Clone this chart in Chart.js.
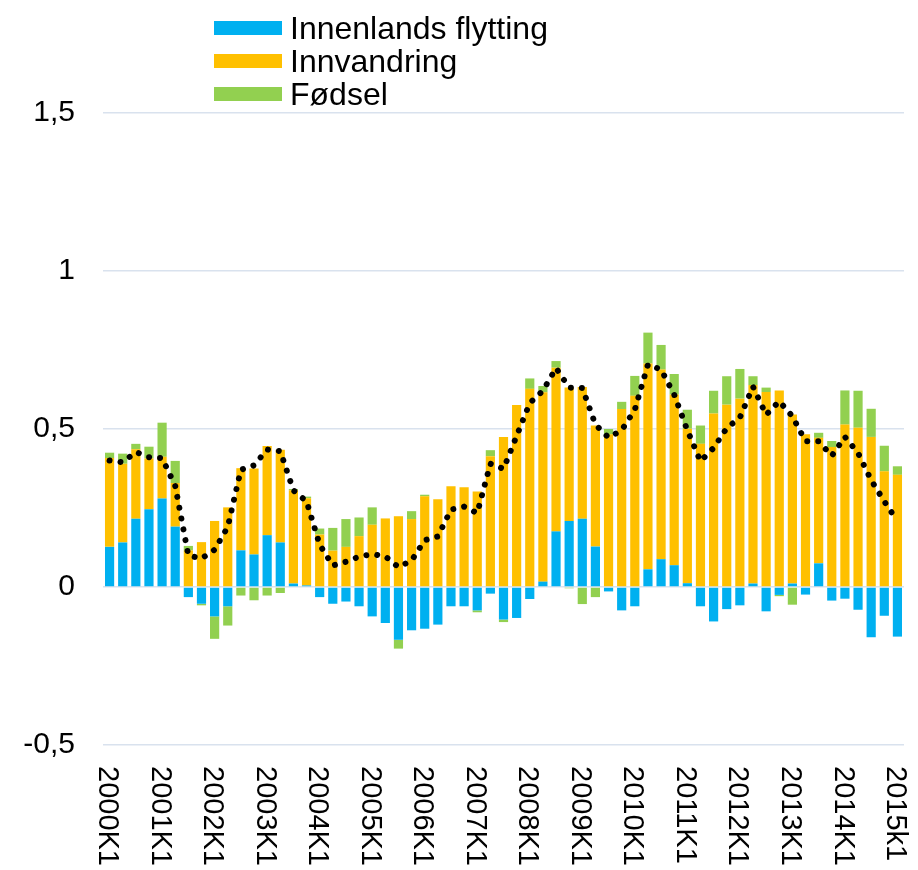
<!DOCTYPE html>
<html>
<head>
<meta charset="utf-8">
<script src="https://cdn.jsdelivr.net/npm/chart.js@4.4.1/dist/chart.umd.min.js"></script>
<style>
  html, body { margin: 0; padding: 0; background: #fff; }
  #wrap { width: 918px; height: 870px; position: relative; }
</style>
</head>
<body>
<div id="wrap"><canvas id="c" width="918" height="870"></canvas></div>
<script>
const categories = [
  "2000K1","2000K2","2000K3","2000K4","2001K1","2001K2","2001K3","2001K4",
  "2002K1","2002K2","2002K3","2002K4","2003K1","2003K2","2003K3","2003K4",
  "2004K1","2004K2","2004K3","2004K4","2005K1","2005K2","2005K3","2005K4",
  "2006K1","2006K2","2006K3","2006K4","2007K1","2007K2","2007K3","2007K4",
  "2008K1","2008K2","2008K3","2008K4","2009K1","2009K2","2009K3","2009K4",
  "2010K1","2010K2","2010K3","2010K4","2011K1","2011K2","2011K3","2011K4",
  "2012K1","2012K2","2012K3","2012K4","2013K1","2013K2","2013K3","2013K4",
  "2014K1","2014K2","2014K3","2014K4","2015k1"
];
const tickLabels = ["2000K1","2001K1","2002K1","2003K1","2004K1","2005K1","2006K1","2007K1",
  "2008K1","2009K1","2010K1","2011K1","2012K1","2013K1","2014K1","2015k1"];

const innenlands = [
  0.127,0.141,0.216,0.246,0.280,0.191,-0.032,-0.053,
  -0.093,-0.061,0.116,0.103,0.164,0.141,0.011,0.005,
  -0.032,-0.053,-0.046,-0.061,-0.093,-0.114,-0.167,-0.137,
  -0.132,-0.119,-0.061,-0.061,-0.074,-0.021,-0.103,-0.098,
  -0.038,0.017,0.176,0.209,0.216,0.128,-0.014,-0.074,
  -0.061,0.056,0.088,0.069,0.012,-0.061,-0.109,-0.070,
  -0.058,0.011,-0.077,-0.025,0.011,-0.024,0.075,-0.043,
  -0.037,-0.072,-0.159,-0.091,-0.157
];
const innvandring = [
  0.281,0.249,0.220,0.161,0.132,0.138,0.116,0.142,
  0.209,0.252,0.260,0.272,0.282,0.293,0.295,0.276,
  0.166,0.115,0.127,0.161,0.197,0.217,0.224,0.215,
  0.287,0.278,0.319,0.316,0.302,0.414,0.475,0.576,
  0.627,0.599,0.518,0.422,0.417,0.383,0.483,0.563,
  0.605,0.651,0.600,0.540,0.489,0.453,0.549,0.577,
  0.596,0.628,0.617,0.622,0.535,0.483,0.397,0.443,
  0.514,0.504,0.475,0.366,0.355
];
const fodsel = [
  0.017,0.032,0.017,0.037,0.108,0.070,0.014,-0.005,
  -0.071,-0.061,-0.027,-0.042,-0.027,-0.019,0.004,0.005,
  0.019,0.072,0.088,0.059,0.055,0.000,-0.028,0.025,
  0.005,0.000,0.000,0.000,-0.006,0.019,-0.008,0.000,
  0.033,0.020,0.021,-0.004,-0.054,-0.032,0.017,0.023,
  0.063,0.098,0.078,0.065,0.060,0.058,0.072,0.090,
  0.094,0.028,0.014,-0.004,-0.056,0.000,0.016,0.019,
  0.108,0.117,0.089,0.081,0.027
];
const totalLine = [
  0.400,0.395,0.427,0.411,0.408,0.320,0.100,0.090,
  0.118,0.190,0.371,0.385,0.435,0.430,0.306,0.271,
  0.134,0.068,0.080,0.096,0.104,0.097,0.063,0.084,
  0.148,0.160,0.245,0.254,0.234,0.390,0.374,0.478,
  0.582,0.621,0.693,0.631,0.630,0.514,0.473,0.496,
  0.561,0.704,0.688,0.609,0.496,0.398,0.440,0.503,
  0.536,0.634,0.545,0.588,0.540,0.461,0.461,0.415,
  0.475,0.424,0.338,0.271,0.208
];
const seriesNames = ["Innenlands flytting", "Innvandring", "Fødsel"];
const seriesColors = ["#00B0F0", "#FFC000", "#92D050"];

const FONT = "'Liberation Sans', Arial, sans-serif";

const customText = {
  id: 'customText',
  afterDraw(chart) {
    const ctx = chart.ctx;
    const xs = chart.scales.x;
    // rotated x labels (reading top to bottom)
    ctx.save();
    ctx.fillStyle = '#000';
    ctx.font = '29px ' + FONT;
    ctx.textAlign = 'left';
    ctx.textBaseline = 'alphabetic';
    categories.forEach((c, i) => {
      if (!tickLabels.includes(c)) return;
      const x = xs.getPixelForValue(i);
      ctx.save();
      ctx.translate(x, 766);
      ctx.rotate(Math.PI / 2);
      ctx.fillText(c, 0, 10.4);
      ctx.restore();
    });
    ctx.restore();
    // legend
    ctx.save();
    const rows = [39, 72, 105];
    ctx.font = '32px ' + FONT;
    ctx.textBaseline = 'alphabetic';
    ctx.textAlign = 'left';
    seriesNames.forEach((n, k) => {
      ctx.fillStyle = seriesColors[k];
      ctx.fillRect(214, rows[k] - 18, 68, 14);
      ctx.fillStyle = '#000';
      ctx.fillText(n, 290, rows[k]);
    });
    ctx.restore();
  }
};

new Chart(document.getElementById('c'), {
  data: {
    labels: categories,
    datasets: [
      { type: 'bar', label: seriesNames[0], data: innenlands, backgroundColor: seriesColors[0], order: 1 },
      { type: 'bar', label: seriesNames[1], data: innvandring, backgroundColor: seriesColors[1], order: 1 },
      { type: 'bar', label: seriesNames[2], data: fodsel, backgroundColor: seriesColors[2], order: 1 },
      { type: 'line', label: 'Total', data: totalLine, borderColor: '#000', borderWidth: 6,
        borderDash: [0.001, 11], borderCapStyle: 'round', pointRadius: 0, tension: 0,
        fill: false, order: 0, stack: 'line' }
    ]
  },
  options: {
    responsive: false,
    animation: false,
    layout: { padding: { top: 113, right: 14, bottom: 0, left: 0 } },
    datasets: { bar: { barPercentage: 0.7, categoryPercentage: 1.0 } },
    plugins: { legend: { display: false }, tooltip: { enabled: false } },
    scales: {
      x: {
        stacked: true,
        grid: { display: false },
        border: { display: false },
        ticks: { display: false },
        afterFit(scale) { scale.height = 125; }
      },
      y: {
        stacked: true,
        min: -0.5, max: 1.5,
        grid: { color: '#d9e2ee', lineWidth: 1.5, drawTicks: false },
        border: { display: false },
        ticks: {
          stepSize: 0.5,
          padding: 28,
          color: '#000',
          font: { size: 30, family: FONT },
          callback: (v) => String(v).replace('.', ',')
        },
        afterFit(scale) { scale.width = 103; }
      }
    }
  },
  plugins: [customText]
});
</script>
</body>
</html>
